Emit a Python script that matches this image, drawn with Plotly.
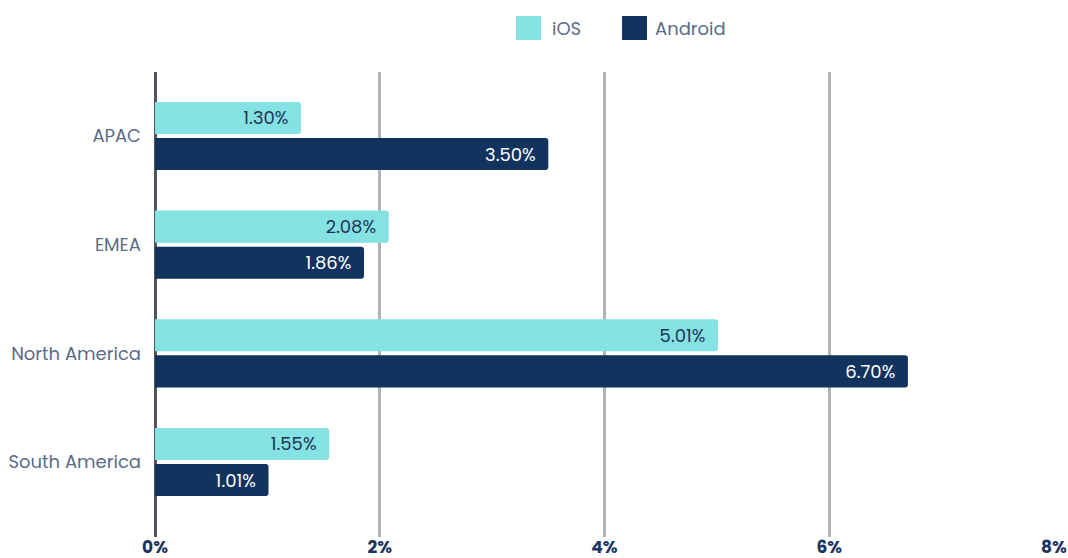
import plotly.graph_objects as go

categories = ["APAC", "EMEA", "North America", "South America"]
ios_values = [1.30, 2.08, 5.01, 1.55]
android_values = [3.50, 1.86, 6.70, 1.01]
x_ticks = [0, 2, 4, 6, 8]
x_tick_labels = ["0%", "2%", "4%", "6%", "8%"]

IOS_COLOR = "#84E2E2"
ANDROID_COLOR = "#11335D"
FONT = "Poppins, Open Sans, sans-serif"
PAD = "\u00a0\u00a0"

fig = go.Figure()
fig.add_trace(go.Bar(
    y=categories, x=ios_values, orientation="h", name="iOS",
    marker=dict(color=IOS_COLOR, line=dict(width=0), cornerradius=3),
    text=[f"{v:.2f}%{PAD}" for v in ios_values],
    textposition="inside", insidetextanchor="end", constraintext="none",
    textfont=dict(family=FONT, size=18, color="#1E3457"),
    hoverinfo="skip",
))
fig.add_trace(go.Bar(
    y=categories, x=android_values, orientation="h", name="Android",
    marker=dict(color=ANDROID_COLOR, line=dict(width=0), cornerradius=3),
    text=[f"{v:.2f}%{PAD}" for v in android_values],
    textposition="inside", insidetextanchor="end", constraintext="none",
    textfont=dict(family=FONT, size=18, color="#FFFFFF"),
    hoverinfo="skip",
))

fig.update_layout(
    width=1068, height=558,
    margin=dict(l=155, r=14, t=72, b=21, autoexpand=False),
    paper_bgcolor="white", plot_bgcolor="white",
    barmode="group", bargap=0.336, bargroupgap=0.111,
    showlegend=False,
    font=dict(family=FONT),
    xaxis=dict(
        range=[0, 8], tickvals=x_ticks, ticktext=x_tick_labels,
        showgrid=True, gridcolor="#B3B3B3", gridwidth=3,
        zeroline=True, zerolinecolor="#50545C", zerolinewidth=3,
        showline=False, ticks="", automargin=False,
        ticklabelstandoff=-2,
        tickfont=dict(family=FONT, size=17, color="#1B3560", weight="bold"),
    ),
    yaxis=dict(
        autorange=False, range=[3.69, -0.589],
        showgrid=False, zeroline=False, showline=False, ticks="",
        ticklabelstandoff=13, automargin=False,
        tickfont=dict(family=FONT, size=18, color="#5A6B86"),
    ),
)

# legend drawn manually
legend_items = [("iOS", IOS_COLOR, 0.4016, 0.4294, 0.4394),
                ("Android", ANDROID_COLOR, 0.5195, 0.5473, 0.5540)]
for label, color, x0, x1, tx in legend_items:
    fig.add_shape(type="rect", xref="paper", yref="paper",
                  x0=x0, x1=x1, y0=1.0688, y1=1.1204,
                  fillcolor=color, line=dict(width=0))
    fig.add_annotation(xref="paper", yref="paper", x=tx, y=1.0946,
                       xanchor="left", yanchor="middle", showarrow=False,
                       text=label, font=dict(family=FONT, size=18, color="#5A6B86"))

fig.write_html("out.html", config={"displayModeBar": False},
               post_script="document.body.style.margin='0';document.body.style.overflow='hidden';")
